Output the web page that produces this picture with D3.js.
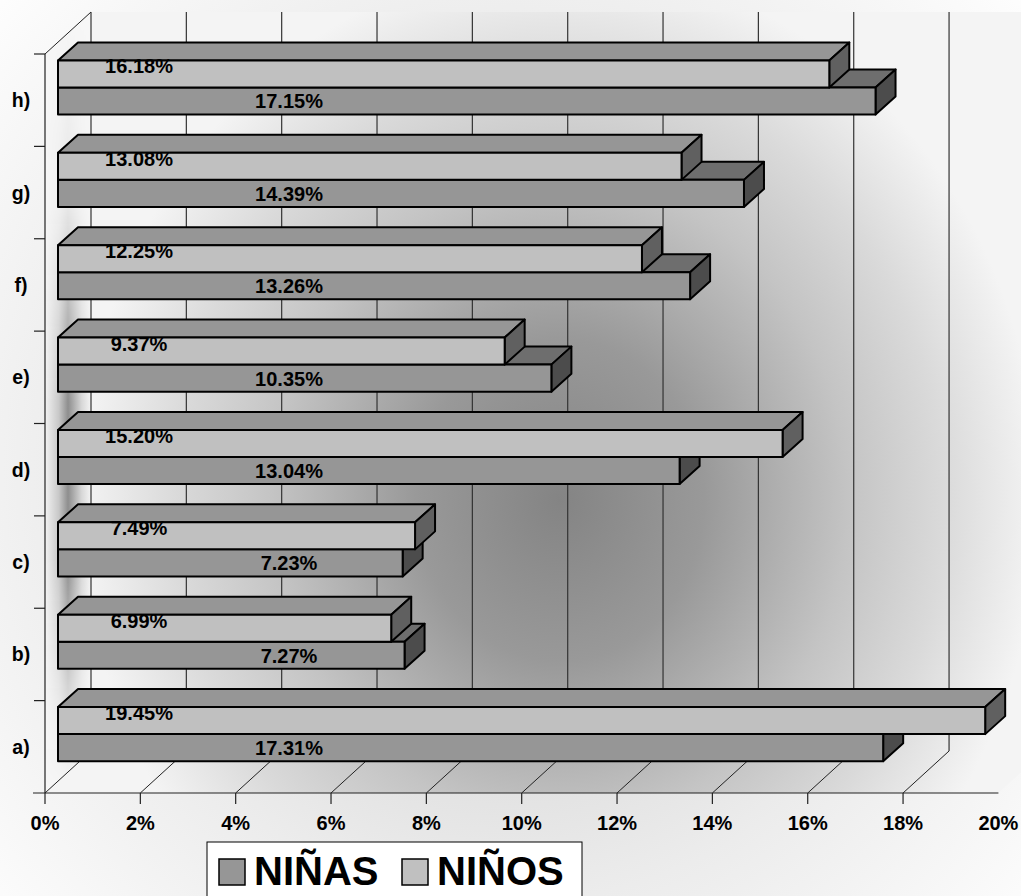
<!DOCTYPE html>
<html><head><meta charset="utf-8">
<script src="https://cdn.jsdelivr.net/npm/d3@7"></script>
<style>
body{margin:0;background:#fff}
svg{display:block}
text{font-family:"Liberation Sans",Arial,Helvetica,sans-serif;font-weight:bold;fill:#000}
</style>
</head><body>
<svg id="c" width="1021" height="896"></svg>
<script>
// ---- data ----
const categories = ["a)","b)","c)","d)","e)","f)","g)","h)"];
const seriesNames = ["NIÑAS","NIÑOS"];
const ninas = [17.31, 7.27, 7.23, 13.04, 10.35, 13.26, 14.39, 17.15];
const ninos = [19.45, 6.99, 7.49, 15.20, 9.37, 12.25, 13.08, 16.18];
const xTicks = [0,2,4,6,8,10,12,14,16,18,20];
const tickLabels = xTicks.map(d => d + "%");

// ---- layout ----
const svg = d3.select("#c");
const defs = svg.append("defs");
const DX = 46, DY = -42;          // wall depth
const BFX = 13, BFY = -12;        // bar front plane offset
const BDX = 20, BDY = -18;        // bar depth
const x = d3.scaleLinear().domain([0,20]).range([45, 998.4]);
const y = d3.scaleBand().domain(categories).range([793, 54]);
const sub = d3.scaleBand().domain(["NIÑOS","NIÑAS"])
  .range([0.2*y.bandwidth(), 0.785*y.bandwidth()]);
const bottomY = 793, topBackY = 12;

// chart-area background
const bg = defs.append("radialGradient").attr("id","bg")
  .attr("gradientUnits","userSpaceOnUse").attr("cx",510).attr("cy",470).attr("r",720);
bg.append("stop").attr("offset",0).attr("stop-color","#c8c8c8");
bg.append("stop").attr("offset",0.6).attr("stop-color","#ececec");
bg.append("stop").attr("offset",1).attr("stop-color","#ffffff");
svg.append("rect").attr("width",1021).attr("height",896).attr("fill","url(#bg)");

// wall gradient
const wg = defs.append("radialGradient").attr("id","wall")
  .attr("gradientUnits","userSpaceOnUse").attr("cx",560).attr("cy",500).attr("r",480)
  .attr("gradientTransform","translate(560,500) scale(1,1.12) translate(-560,-500)");
[[0,"#848484"],[0.3,"#999999"],[0.6,"#c4c4c4"],[0.8,"#dadada"],[1,"#f4f4f4"]]
  .forEach(s => wg.append("stop").attr("offset",s[0]).attr("stop-color",s[1]));
// back wall + floor
svg.append("path")
  .attr("d", `M${x(0)+DX},${topBackY} L1044,${topBackY} L1044,${bottomY+DY} L${x(20)},${bottomY} L${x(0)},${bottomY} L${x(0)},${y.range()[1]} Z`)
  .attr("fill","url(#wall)");

// side wall
const sg = defs.append("linearGradient").attr("id","side")
  .attr("gradientUnits","userSpaceOnUse").attr("x1",45).attr("x2",91).attr("y1",0).attr("y2",0);
[[0,"#f2f2f2"],[0.3,"#c8c8c8"],[0.5,"#8e8e8e"],[0.8,"#d8d8d8"],[1,"#f4f4f4"]]
  .forEach(s => sg.append("stop").attr("offset",s[0]).attr("stop-color",s[1]));
const mg = defs.append("linearGradient").attr("id","sidemaskg")
  .attr("gradientUnits","userSpaceOnUse").attr("x1",0).attr("x2",0).attr("y1",12).attr("y2",793);
[[0,0],[0.25,0.15],[0.5,1],[0.7,1],[0.9,0.2],[1,0]]
  .forEach(s => mg.append("stop").attr("offset",s[0]).attr("stop-color","#fff").attr("stop-opacity",s[1]));
defs.append("mask").attr("id","sidemask").append("rect")
  .attr("x",40).attr("y",0).attr("width",60).attr("height",800).attr("fill","url(#sidemaskg)");
const sidePath = `M${x(0)},${y.range()[1]} L${x(0)+DX},${topBackY} L${x(0)+DX},${bottomY+DY} L${x(0)},${bottomY} Z`;
svg.append("path").attr("d",sidePath).attr("fill","#f7f7f7");
svg.append("path").attr("d",sidePath).attr("fill","url(#side)").attr("mask","url(#sidemask)");

// back wall gridlines
const gridTicks = xTicks.filter(t => t < 20);
svg.append("g").selectAll("line").data(gridTicks).join("line")
  .attr("x1", d => x(d)+DX).attr("x2", d => x(d)+DX)
  .attr("y1", topBackY).attr("y2", bottomY+DY)
  .attr("stroke","#333").attr("stroke-width",1.2);
// floor diagonals
svg.append("g").selectAll("line").data(gridTicks).join("line")
  .attr("x1", d => x(d)).attr("x2", d => x(d)+DX)
  .attr("y1", bottomY).attr("y2", bottomY+DY)
  .attr("stroke","#222").attr("stroke-width",1);
// floor front line and ticks
svg.append("line").attr("x1",33).attr("x2",x(20)).attr("y1",bottomY).attr("y2",bottomY)
  .attr("stroke","#222").attr("stroke-width",1.2);
svg.append("g").selectAll("line").data(gridTicks).join("line")
  .attr("x1", d => x(d)).attr("x2", d => x(d))
  .attr("y1", bottomY).attr("y2", bottomY+11)
  .attr("stroke","#222").attr("stroke-width",1.2);
// left axis
svg.append("line").attr("x1",x(0)).attr("x2",x(0)).attr("y1",y.range()[1]).attr("y2",bottomY)
  .attr("stroke","#222").attr("stroke-width",1.2);
svg.append("line").attr("x1",x(0)).attr("x2",x(0)+DX).attr("y1",y.range()[1]).attr("y2",topBackY)
  .attr("stroke","#222").attr("stroke-width",1);
svg.append("g").selectAll("line").data(categories).join("line")
  .attr("x1",34).attr("x2",x(0))
  .attr("y1", d => y(d)).attr("y2", d => y(d))
  .attr("stroke","#222").attr("stroke-width",1.2);

// category labels
svg.append("g").selectAll("text").data(categories).join("text")
  .attr("x",21).attr("y", d => y(d)+y.bandwidth()/2+7)
  .attr("text-anchor","middle").attr("font-size",19.5).text(d => d);
// tick labels
svg.append("g").selectAll("text").data(xTicks).join("text")
  .attr("x", d => x(d)).attr("y", 830)
  .attr("text-anchor","middle").attr("font-size",20).text((d,i) => tickLabels[i]);

// ---- bars ----
const styles = {
  "NIÑAS": {front:"#969696", top:"#6e6e6e", side:"#4c4c4c"},
  "NIÑOS": {front:"#c0c0c0", top:"#969696", side:"#606060"}
};
const xb = v => x(v) + BFX;
const rows = categories.map((c,i) => ({cat:c, "NIÑAS":ninas[i], "NIÑOS":ninos[i]}));
const barG = svg.append("g");
rows.slice().reverse().forEach(r => {
  ["NIÑAS","NIÑOS"].forEach(s => {
    const v = r[s];
    const x0 = xb(0), x1 = xb(v);
    const yt = y(r.cat) + BFY + sub(s), yb = yt + sub.bandwidth();
    const st = styles[s];
    const g = barG.append("g").attr("stroke","#000").attr("stroke-width",2).attr("stroke-linejoin","round");
    g.append("path").attr("fill",st.top)
      .attr("d",`M${x0},${yt} L${x0+BDX},${yt+BDY} L${x1+BDX},${yt+BDY} L${x1},${yt} Z`);
    g.append("path").attr("fill",st.side)
      .attr("d",`M${x1},${yt} L${x1+BDX},${yt+BDY} L${x1+BDX},${yb+BDY} L${x1},${yb} Z`);
    g.append("rect").attr("fill",st.front)
      .attr("x",x0).attr("y",yt).attr("width",x1-x0).attr("height",yb-yt);
  });
});
// value labels
rows.forEach(r => {
  const ytN = y(r.cat) + BFY + sub("NIÑOS");
  const ytA = y(r.cat) + BFY + sub("NIÑAS");
  svg.append("text").attr("x", xb(0)+81).attr("y", ytN+6+7)
    .attr("text-anchor","middle").attr("font-size",20).text(r["NIÑOS"].toFixed(2)+"%");
  svg.append("text").attr("x", xb(0)+231).attr("y", ytA+14+7)
    .attr("text-anchor","middle").attr("font-size",20).text(r["NIÑAS"].toFixed(2)+"%");
});

// ---- legend ----
const lg = svg.append("g");
lg.append("rect").attr("x",207).attr("y",842).attr("width",375).attr("height",70)
  .attr("fill","#fff").attr("stroke","#000").attr("stroke-width",1);
const legX = [219, 402];
seriesNames.forEach((s,i) => {
  lg.append("rect").attr("x",legX[i]).attr("y",859).attr("width",26).attr("height",26)
    .attr("fill",styles[s].front).attr("stroke","#000").attr("stroke-width",1.5);
  lg.append("text").attr("x",legX[i]+35).attr("y",885).attr("font-size",40).text(s);
});
</script>
</body></html>
